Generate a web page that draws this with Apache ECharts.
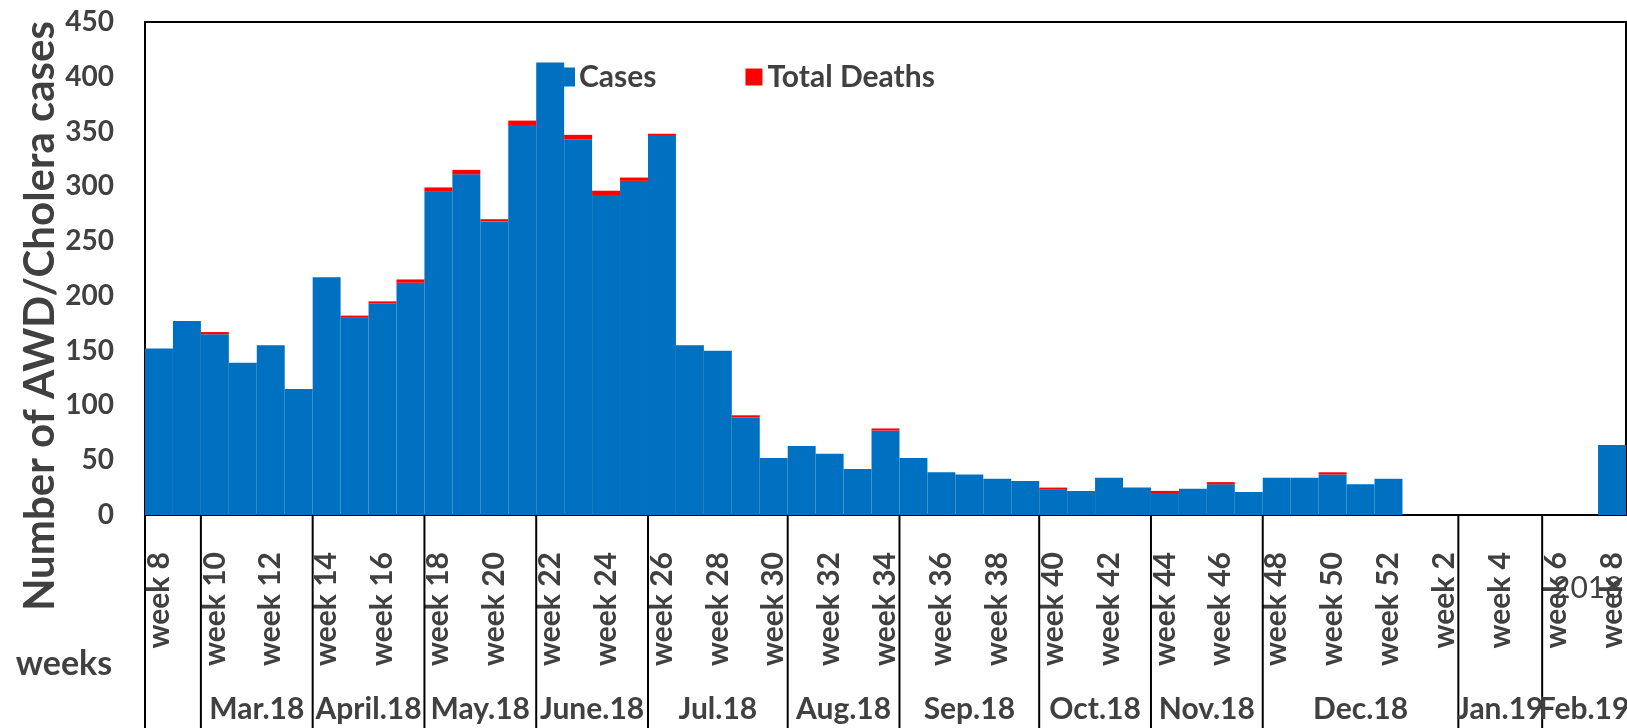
<!DOCTYPE html>
<html>
<head>
<meta charset="utf-8">
<script src="https://cdn.jsdelivr.net/npm/echarts@6/dist/echarts.min.js"></script>
<style>
  html, body { margin: 0; padding: 0; background: #fff; }
  #main { width: 1627px; height: 728px; }
</style>
</head>
<body>
<div id="main"></div>
<script>
// week 8 of 2018 to week 8 of 2019
var weeks = [
  'week 8', 'week 9', 'week 10', 'week 11', 'week 12', 'week 13', 'week 14', 'week 15',
  'week 16', 'week 17', 'week 18', 'week 19', 'week 20', 'week 21', 'week 22', 'week 23',
  'week 24', 'week 25', 'week 26', 'week 27', 'week 28', 'week 29', 'week 30', 'week 31',
  'week 32', 'week 33', 'week 34', 'week 35', 'week 36', 'week 37', 'week 38', 'week 39',
  'week 40', 'week 41', 'week 42', 'week 43', 'week 44', 'week 45', 'week 46', 'week 47',
  'week 48', 'week 49', 'week 50', 'week 51', 'week 52',
  'week 1', 'week 2', 'week 3', 'week 4', 'week 5', 'week 6', 'week 7', 'week 8'
];
// no reports for weeks 1-7 of 2019
var cases = [
  152, 177, 165, 139, 155, 115, 217, 180,
  193, 212, 295, 311, 268, 356, 413, 343,
  292, 305, 346, 155, 150, 89, 52, 63,
  56, 42, 77, 52, 39, 37, 33, 31,
  23, 22, 34, 25, 20, 24, 28, 21,
  34, 34, 37, 28, 33,
  null, null, null, null, null, null, null, 64
];
var deaths = [
  null, null, 2, null, null, null, null, 2,
  2, 3, 4, 4, 2, 4, null, 4,
  4, 3, 2, null, null, 2, null, null,
  null, null, 2, null, null, null, null, null,
  2, null, null, null, 2, null, 2, null,
  null, null, 2, null, null,
  null, null, null, null, null, null, null, null
];
// month groups: first and last week index of each
var monthNames = ['', 'Mar.18', 'April.18', 'May.18', 'June.18', 'Jul.18', 'Aug.18',
  'Sep.18', 'Oct.18', 'Nov.18', 'Dec.18', 'Jan.19', 'Feb.19'];
var monthSpans = [[0, 1], [2, 5], [6, 9], [10, 13], [14, 17], [18, 22], [23, 26],
  [27, 31], [32, 35], [36, 39], [40, 46], [47, 49], [50, 52]];
var yTicks = { min: 0, max: 450, step: 50 };

var font = 'Lato';
var grey = '#404040';

var myChart = echarts.init(document.getElementById('main'));

var option = {
  animation: false,
  backgroundColor: '#fff',
  grid: {
    left: 145, top: 22, right: -2, bottom: 213,
    show: true, borderColor: '#000', borderWidth: 2
  },
  legend: {
    data: ['Cases', 'Total Deaths'],
    left: 551, top: 57,
    itemWidth: 17, itemHeight: 17, itemGap: 89,
    icon: 'rect',
    textStyle: { fontFamily: font, fontWeight: 'bold', fontSize: 30, color: grey }
  },
  xAxis: {
    type: 'category',
    data: weeks,
    boundaryGap: true,
    axisLine: { lineStyle: { color: '#000', width: 2 } },
    axisTick: { show: false },
    axisLabel: {
      interval: 1, rotate: 90, margin: 37,
      fontFamily: font, fontWeight: 'bold', fontSize: 30, color: grey
    }
  },
  yAxis: {
    type: 'value',
    min: yTicks.min, max: yTicks.max, interval: yTicks.step,
    axisLine: { show: true, lineStyle: { color: '#000', width: 2 } },
    axisTick: { show: false },
    splitLine: { show: false },
    axisLabel: { margin: 31, fontFamily: font, fontWeight: 'bold', fontSize: 28, color: grey }
  },
  graphic: [
    {
      type: 'text', x: 40, y: 316, rotation: Math.PI / 2,
      style: { text: 'Number of AWD/Cholera cases', font: 'bold 42px Lato', fill: grey,
        textAlign: 'center', textVerticalAlign: 'middle' }
    },
    {
      type: 'text', x: 64, y: 664,
      style: { text: 'weeks', font: 'bold 34px Lato', fill: grey,
        textAlign: 'center', textVerticalAlign: 'middle' }
    },
    {
      type: 'text', x: 1553, y: 588, z: -1,
      style: { text: '2018', font: '30px Lato', fill: grey,
        textAlign: 'left', textVerticalAlign: 'middle' }
    }
  ],
  series: [
    {
      name: 'Cases', type: 'bar', stack: 'all',
      barCategoryGap: '0%',
      itemStyle: { color: '#0070C0', borderColor: '#0070C0', borderWidth: 2 },
      data: cases
    },
    {
      name: 'Total Deaths', type: 'bar', stack: 'all',
      itemStyle: { color: '#FF0000' },
      data: deaths
    },
    {
      type: 'custom',
      clip: false,
      silent: true,
      encode: { x: [0, 1], y: 2 },
      data: monthSpans.map(function (s) { return [s[0], s[1], 0]; }),
      renderItem: function (params, api) {
        var a = api.coord([api.value(0), 0]);
        var b = api.coord([api.value(1), 0]);
        var w = api.size([1, 0])[0];
        var x0 = a[0] - w / 2;
        var h = api.getHeight();
        return {
          type: 'group',
          children: [
            { type: 'line', shape: { x1: x0, y1: a[1], x2: x0, y2: h },
              style: { stroke: '#000', lineWidth: 2 } },
            { type: 'text', x: (a[0] + b[0]) / 2, y: h - 19,
              style: { text: monthNames[params.dataIndex], font: 'bold 30px Lato',
                fill: grey, textAlign: 'center', textVerticalAlign: 'middle' } }
          ]
        };
      }
    }
  ]
};

myChart.setOption(option);
</script>
</body>
</html>
